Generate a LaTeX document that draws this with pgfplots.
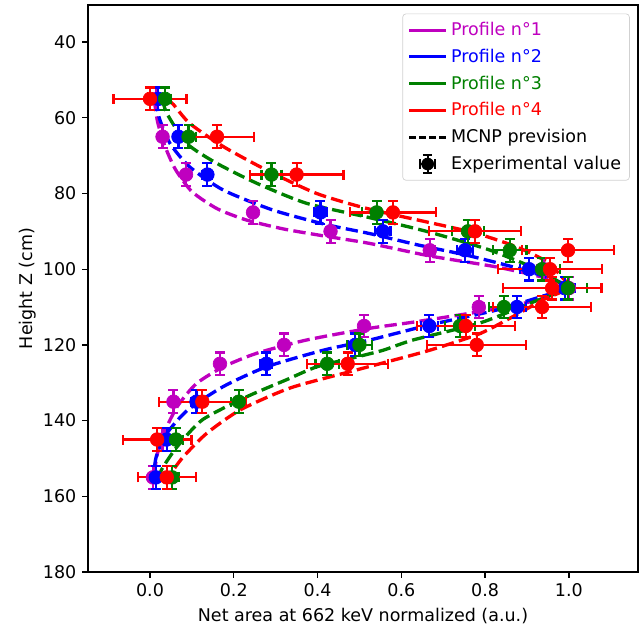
\documentclass[border=0pt]{standalone}
\usepackage{fontspec}
\setmainfont{DejaVu Sans}
\usepackage{pgfplots}
\usepackage{pgfplotstable}
\pgfplotsset{compat=1.18}
\definecolor{mplm}{rgb}{0.75,0,0.75}
\definecolor{mplb}{rgb}{0,0,1}
\definecolor{mplg}{rgb}{0,0.5,0}
\definecolor{mplr}{rgb}{1,0,0}

% experimental points: height, value, x error, y error
\pgfplotstableread{
h x ex ey
55 0.015 0.005 3
65 0.030 0.005 3
75 0.086 0.006 3
85 0.246 0.008 3
90 0.431 0.010 3
95 0.668 0.012 3
100 0.940 0.015 3
105 1.000 0.015 3
110 0.785 0.012 3
115 0.511 0.010 3
120 0.320 0.008 3
125 0.167 0.007 3
135 0.056 0.006 3
145 0.030 0.005 3
155 0.007 0.005 3
}\expA
\pgfplotstableread{
h x ex ey
55 0.020 0.010 3
65 0.068 0.010 3
75 0.137 0.012 3
85 0.407 0.015 3
90 0.556 0.018 3
95 0.752 0.020 3
100 0.905 0.022 3
105 0.990 0.025 3
110 0.876 0.022 3
115 0.667 0.020 3
120 0.490 0.018 3
125 0.278 0.014 3
135 0.111 0.012 3
145 0.040 0.010 3
155 0.014 0.010 3
}\expB
\pgfplotstableread{
h x ex ey
55 0.036 0.015 3
65 0.092 0.017 3
75 0.290 0.024 3
85 0.541 0.035 3
90 0.759 0.038 3
95 0.859 0.040 3
100 0.936 0.042 3
105 0.998 0.045 3
110 0.845 0.035 3
115 0.740 0.035 3
120 0.500 0.030 3
125 0.423 0.028 3
135 0.212 0.018 3
145 0.062 0.016 3
155 0.053 0.015 3
}\expC
\pgfplotstableread{
h x ex ey
55 0.000 0.087 3
65 0.160 0.088 3
75 0.350 0.112 3
85 0.580 0.103 3
90 0.776 0.110 3
95 0.998 0.110 3
100 0.955 0.124 3
105 0.960 0.118 3
110 0.936 0.117 3
115 0.754 0.117 3
120 0.780 0.118 3
125 0.472 0.097 3
135 0.125 0.103 3
145 0.017 0.082 3
155 0.040 0.069 3
}\expD

% MCNP curves: value, height
\pgfplotstableread{
x h
0.010 55
0.018 61
0.034 67
0.060 73.5
0.100 79.5
0.160 84.0
0.230 87.0
0.320 89.4
0.420 91.3
0.525 93.2
0.668 96.5
0.827 99.4
0.947 102.4
1.000 105
0.907 108.6
0.788 111.2
0.628 114.0
0.525 115.6
0.374 118.7
0.255 122.2
0.175 125.8
0.111 130.2
0.068 135.8
0.044 140.7
0.028 145.1
0.016 149.5
0.010 155
}\mcA
\pgfplotstableread{
x h
0.015 55
0.022 60.0
0.048 66.8
0.095 73
0.175 79.1
0.294 84.4
0.420 88.2
0.525 90.6
0.640 93.6
0.760 96.4
0.880 99.8
0.970 103.0
1.000 105
0.947 106.8
0.827 110.8
0.668 114.7
0.525 118.7
0.414 121.4
0.278 125.8
0.175 131.0
0.090 137.2
0.040 143.4
0.015 149.5
0.008 155
}\mcB
\pgfplotstableread{
x h
0.030 55
0.040 58.8
0.088 66.8
0.159 72
0.255 77.3
0.374 82.6
0.525 86.4
0.660 90.0
0.810 94.9
0.938 100.7
0.986 104.2
1.000 105
0.907 109
0.788 114.2
0.628 118.7
0.557 121.4
0.493 123.2
0.398 125.8
0.326 129.2
0.231 133.7
0.125 139.8
0.064 147
0.030 152.5
0.020 155
}\mcC
\pgfplotstableread{
x h
0.040 55
0.056 56.5
0.095 61.5
0.175 67.6
0.278 73.8
0.398 80
0.530 84.3
0.764 90.1
0.875 94.1
0.947 98
0.986 102.4
1.000 105
0.940 108
0.875 112
0.788 117
0.668 121.4
0.565 124.5
0.480 127
0.334 131.4
0.215 137.2
0.135 143.4
0.080 149.5
0.056 153
0.045 155
}\mcD

\begin{document}
\begin{tikzpicture}
\begin{axis}[
  scale only axis,
  width=330pt, height=340.2pt,
  xmin=-0.148, xmax=1.165,
  ymin=30.2, ymax=180,
  y dir=reverse,
  xtick={0,0.2,0.4,0.6,0.8,1.0},
  ytick={40,60,80,100,120,140,160,180},
  xticklabel style={/pgf/number format/.cd, fixed, fixed zerofill, precision=1},
  /pgf/number format/assume math mode=true,
  tick label style={font=\fontsize{10.5}{12}\selectfont},
  label style={font=\fontsize{10.5}{12}\selectfont},
  xlabel={Net area at 662 keV normalized (a.u.)},
  ylabel={Height Z (cm)},
  ylabel style={yshift=-3pt},
  tick align=outside,
  major tick length=3.5pt,
  every tick/.style={black, line width=0.8pt},
  axis line style={line width=0.8pt},
  xtick pos=left, ytick pos=left,
  legend cell align=left,
  legend style={at={(0.985,0.985)}, anchor=north east, draw=black!18,
     rounded corners=2pt, fill=white,
     font=\fontsize{10.5}{12}\selectfont, row sep=2.6pt, inner sep=3pt},
  legend image code/.code={\draw[#1] (0cm,0cm) -- (0.78cm,0cm);},
]
% MCNP curves
\addplot[mplm, line width=2pt, dash pattern=on 7.4pt off 3.2pt, smooth, tension=0.4, forget plot] table[x=x, y=h] {\mcA};
\addplot[mplb, line width=2pt, dash pattern=on 7.4pt off 3.2pt, smooth, tension=0.4, forget plot] table[x=x, y=h] {\mcB};
\addplot[mplg, line width=2pt, dash pattern=on 7.4pt off 3.2pt, smooth, tension=0.4, forget plot] table[x=x, y=h] {\mcC};
\addplot[mplr, line width=2pt, dash pattern=on 7.4pt off 3.2pt, smooth, tension=0.4, forget plot] table[x=x, y=h] {\mcD};
% experimental points
\pgfplotsset{expstyle/.style={#1, only marks, mark=*, mark size=4.1pt, mark options={fill=#1, draw=#1, solid}, forget plot,
   error bars/.cd, x dir=both, x explicit, y dir=both, y explicit,
   error bar style={line width=1.3pt, #1, solid},
   error mark=-,
   error mark options={rotate=90, mark size=3pt, line width=1.3pt, draw=#1, solid}}}
\addplot[expstyle=mplm] table[x=x, y=h, x error=ex, y error=ey] {\expA};
\addplot[expstyle=mplb] table[x=x, y=h, x error=ex, y error=ey] {\expB};
\addplot[expstyle=mplg] table[x=x, y=h, x error=ex, y error=ey] {\expC};
\addplot[expstyle=mplr] table[x=x, y=h, x error=ex, y error=ey] {\expD};
% legend
\addlegendimage{mplm, line width=1.8pt}
\addlegendentry[text=mplm]{Profile n°1}
\addlegendimage{mplb, line width=1.8pt}
\addlegendentry[text=mplb]{Profile n°2}
\addlegendimage{mplg, line width=1.8pt}
\addlegendentry[text=mplg]{Profile n°3}
\addlegendimage{mplr, line width=1.8pt}
\addlegendentry[text=mplr]{Profile n°4}
\addlegendimage{black, line width=1.8pt, dash pattern=on 4pt off 2pt}
\addlegendentry{MCNP prevision}
\addlegendimage{legend image code/.code={
  \draw[black, line width=1.3pt] (0.23cm,0cm) -- (0.55cm,0cm);
  \draw[black, line width=1.3pt] (0.39cm,-0.19cm) -- (0.39cm,0.19cm);
  \draw[black, line width=1.3pt] (0.23cm,-0.1cm) -- (0.23cm,0.1cm);
  \draw[black, line width=1.3pt] (0.55cm,-0.1cm) -- (0.55cm,0.1cm);
  \draw[black, line width=1.3pt] (0.29cm,-0.19cm) -- (0.49cm,-0.19cm);
  \draw[black, line width=1.3pt] (0.29cm,0.19cm) -- (0.49cm,0.19cm);
  \fill[black] (0.39cm,0cm) circle (3.6pt);}}
\addlegendentry{Experimental value}
\end{axis}
\pgfresetboundingbox
\path ([shift={(-52.8pt,-33.6pt)}]current axis.south west) rectangle ([shift={(3pt,3pt)}]current axis.north east);
\end{tikzpicture}
\end{document}
